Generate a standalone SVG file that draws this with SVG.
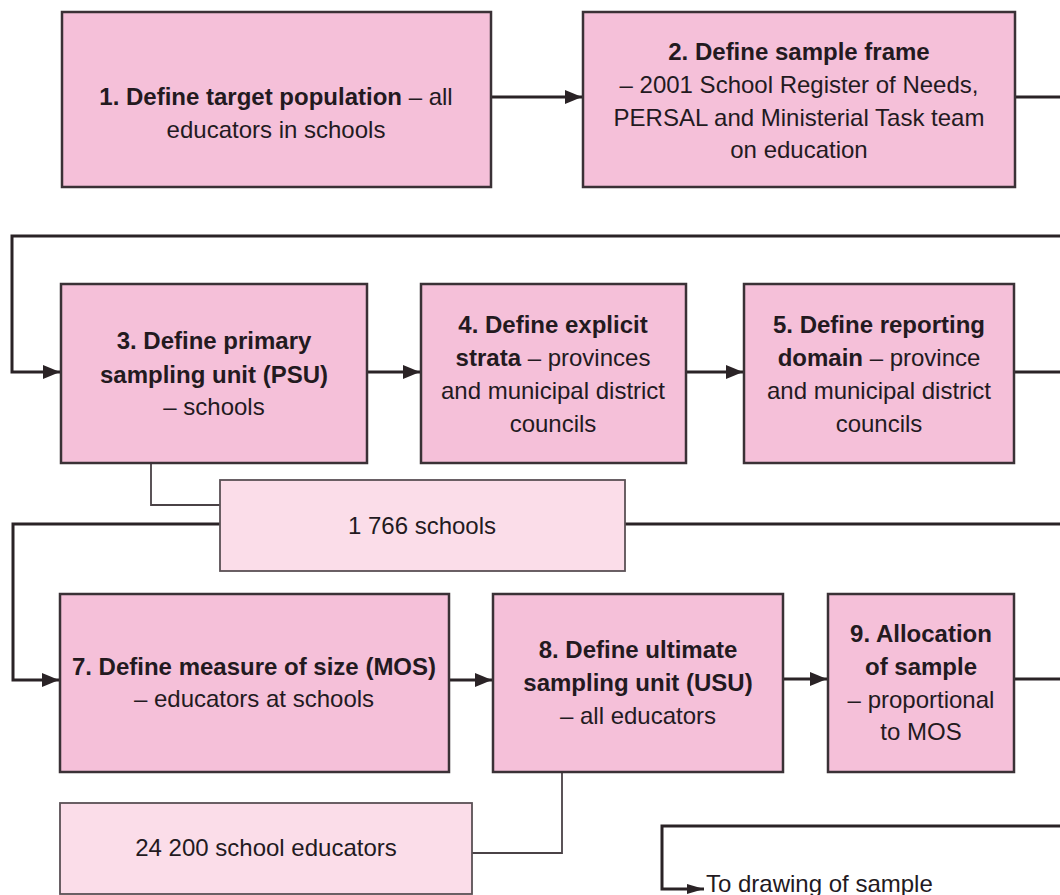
<svg xmlns="http://www.w3.org/2000/svg" width="1060" height="895" viewBox="0 0 1060 895">
<style>
.box{fill:#F5C0D9;stroke:#3a3136;stroke-width:2.5}
.info{fill:#FBDDE9;stroke:#5a5055;stroke-width:1.8}
.t{font-family:"Liberation Sans",Arial,sans-serif;font-size:24px;fill:#231a1f;text-anchor:middle}
.b{font-weight:bold}
.c{fill:none;stroke:#2a2326;stroke-width:3}
.thin{fill:none;stroke:#4a4246;stroke-width:1.8}
</style>
<defs>
<marker id="ah" markerUnits="userSpaceOnUse" markerWidth="18" markerHeight="14" refX="17" refY="7" orient="auto">
<path d="M0,0 L17,7 L0,14 z" fill="#2a2326"/>
</marker>
<marker id="ahs" markerUnits="userSpaceOnUse" markerWidth="18" markerHeight="12" refX="17" refY="6" orient="auto">
<path d="M0,1 L17,6 L0,11 z" fill="#2a2326"/>
</marker>
</defs>
<g id="connectors">
<line class="c" x1="491" y1="97" x2="582" y2="97" marker-end="url(#ah)"/>
<line class="c" x1="1015" y1="97" x2="1060" y2="97"/>
<polyline class="c" points="1060,236 12,236 12,372 60,372" marker-end="url(#ah)"/>
<line class="c" x1="367" y1="372" x2="420" y2="372" marker-end="url(#ah)"/>
<line class="c" x1="686" y1="372" x2="743" y2="372" marker-end="url(#ah)"/>
<line class="c" x1="1014" y1="372" x2="1060" y2="372"/>
<polyline class="thin" points="151,463 151,505 220,505"/>
<polyline class="c" points="220,524 13,524 13,680 59,680" marker-end="url(#ah)"/>
<line class="c" x1="625" y1="524" x2="1060" y2="524"/>
<line class="c" x1="449" y1="680" x2="492" y2="680" marker-end="url(#ah)"/>
<line class="c" x1="783" y1="679" x2="827" y2="679" marker-end="url(#ah)"/>
<line class="c" x1="1014" y1="679" x2="1060" y2="679"/>
<polyline class="thin" points="562,772 562,853 472,853"/>
<polyline class="c" points="1060,826 662,826 662,889 704,889" stroke-width="2.5" marker-end="url(#ahs)"/>
</g>
<g id="n1">
<rect class="box" x="62" y="12" width="429" height="175"/>
<text class="t" x="276" y="105"><tspan class="b">1. Define target population</tspan> – all</text>
<text class="t" x="276" y="138">educators in schools</text>
</g>
<g id="n2">
<rect class="box" x="583" y="12" width="432" height="175"/>
<text class="t b" x="799" y="60">2. Define sample frame</text>
<text class="t" x="799" y="93">– 2001 School Register of Needs,</text>
<text class="t" x="799" y="126">PERSAL and Ministerial Task team</text>
<text class="t" x="799" y="158">on education</text>
</g>
<g id="n3">
<rect class="box" x="61" y="284" width="306" height="179"/>
<text class="t b" x="214" y="349">3. Define primary</text>
<text class="t b" x="214" y="383">sampling unit (PSU)</text>
<text class="t" x="214" y="415">– schools</text>
</g>
<g id="n4">
<rect class="box" x="421" y="284" width="265" height="179"/>
<text class="t b" x="553" y="333">4. Define explicit</text>
<text class="t" x="553" y="366"><tspan class="b">strata</tspan> – provinces</text>
<text class="t" x="553" y="399">and municipal district</text>
<text class="t" x="553" y="432">councils</text>
</g>
<g id="n5">
<rect class="box" x="744" y="284" width="270" height="179"/>
<text class="t b" x="879" y="333">5. Define reporting</text>
<text class="t" x="879" y="366"><tspan class="b">domain</tspan> – province</text>
<text class="t" x="879" y="399">and municipal district</text>
<text class="t" x="879" y="432">councils</text>
</g>
<g id="n6">
<rect class="info" x="220" y="480" width="405" height="91"/>
<text class="t" x="422" y="534">1 766 schools</text>
</g>
<g id="n7">
<rect class="box" x="60" y="594" width="389" height="178"/>
<text class="t b" x="254" y="675">7. Define measure of size (MOS)</text>
<text class="t" x="254" y="707">– educators at schools</text>
</g>
<g id="n8">
<rect class="box" x="493" y="594" width="290" height="178"/>
<text class="t b" x="638" y="658">8. Define ultimate</text>
<text class="t b" x="638" y="691">sampling unit (USU)</text>
<text class="t" x="638" y="724">– all educators</text>
</g>
<g id="n9">
<rect class="box" x="828" y="594" width="186" height="178"/>
<text class="t b" x="921" y="642">9. Allocation</text>
<text class="t b" x="921" y="675">of sample</text>
<text class="t" x="921" y="708">– proportional</text>
<text class="t" x="921" y="740">to MOS</text>
</g>
<g id="n10">
<rect class="info" x="60" y="803" width="412" height="91"/>
<text class="t" x="266" y="856">24 200 school educators</text>
</g>
<g id="n11">
<text class="t" x="706" y="892" style="text-anchor:start">To drawing of sample</text>
</g>
</svg>
